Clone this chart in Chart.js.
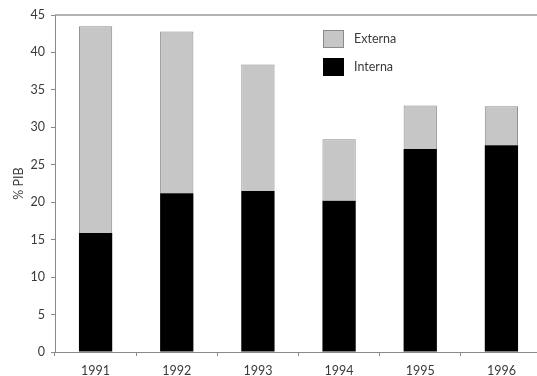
<!DOCTYPE html>
<html>
<head>
<meta charset="utf-8">
<script src="https://cdn.jsdelivr.net/npm/chart.js@4/dist/chart.umd.min.js"></script>
<style>
  html, body { margin: 0; padding: 0; background: #fff; overflow: hidden; }
  #wrap { width: 545px; height: 376px; }
</style>
</head>
<body>
<div id="wrap"><canvas id="deuda" width="545" height="376"></canvas></div>
<script>
const years = ["1991", "1992", "1993", "1994", "1995", "1996"];
const interna = [15.9, 21.2, 21.5, 20.2, 27.1, 27.6];
const externa = [27.6, 21.6, 16.9, 8.2, 5.8, 5.2];
const yTicks = [0, 5, 10, 15, 20, 25, 30, 35, 40, 45];

const FONT = "Lato, 'Open Sans', sans-serif";
const TEXT = "#3a3a3a";
const AXIS = "#8a8a8a";
const GRAY = "#c6c6c6";

// legend drawn inside the plot, Externa above Interna
const legendItems = [
  { label: "Externa", fill: GRAY, stroke: "#8a8a8a" },
  { label: "Interna", fill: "#000", stroke: "#000" },
];

const frame = {
  id: "frame",
  afterDraw(chart) {
    const { ctx, chartArea } = chart;
    ctx.save();
    // top border of the plot
    ctx.strokeStyle = "#9a9a9a";
    ctx.lineWidth = 1.5;
    ctx.beginPath();
    ctx.moveTo(chartArea.left, chartArea.top);
    ctx.lineTo(chartArea.right, chartArea.top);
    ctx.stroke();

    ctx.font = "12.5px " + FONT;
    ctx.textBaseline = "middle";
    ctx.fillStyle = TEXT;
    legendItems.forEach((item, i) => {
      const x = 323, y = 30 + i * 28;
      ctx.fillStyle = item.fill;
      ctx.fillRect(x, y, 21, 18);
      ctx.strokeStyle = item.stroke;
      ctx.lineWidth = 1;
      ctx.strokeRect(x + 0.5, y + 0.5, 20, 17);
      ctx.fillStyle = TEXT;
      ctx.fillText(item.label, 354, y + 9);
    });
    ctx.restore();
  },
};

new Chart(document.getElementById("deuda"), {
  type: "bar",
  data: {
    labels: years,
    datasets: [
      {
        label: "Interna",
        data: interna,
        backgroundColor: "#000",
        borderColor: "#000",
        borderWidth: 0,
        barPercentage: 0.41,
        categoryPercentage: 1,
      },
      {
        label: "Externa",
        data: externa,
        backgroundColor: GRAY,
        borderColor: "#8a8a8a",
        borderWidth: 1,
        borderSkipped: "bottom",
        barPercentage: 0.41,
        categoryPercentage: 1,
      },
    ],
  },
  options: {
    responsive: false,
    animation: false,
    layout: { padding: { top: 15, right: 3, left: 0, bottom: 0 } },
    plugins: { legend: { display: false }, tooltip: { enabled: false } },
    scales: {
      x: {
        stacked: true,
        grid: { display: true, drawOnChartArea: false, offset: true, color: AXIS, tickLength: 4 },
        border: { display: true, color: AXIS, width: 1 },
        ticks: { color: TEXT, font: { family: FONT, size: 12.5 }, padding: 7, maxRotation: 0 },
        afterFit: (s) => { s.height = 24; },
      },
      y: {
        stacked: true,
        min: 0,
        max: 45,
        afterBuildTicks: (s) => { s.ticks = yTicks.map((v) => ({ value: v })); },
        grid: { display: true, drawOnChartArea: false, color: AXIS, tickLength: 4 },
        border: { display: true, color: AXIS, width: 1 },
        ticks: { color: TEXT, font: { family: FONT, size: 12.5 }, padding: 6 },
        title: {
          display: true,
          text: "% PIB",
          color: TEXT,
          font: { family: FONT, size: 12.5 },
          padding: { top: 11, bottom: 0 },
        },
        afterFit: (s) => { s.width = 55; },
      },
    },
  },
  plugins: [frame],
});
</script>
</body>
</html>
